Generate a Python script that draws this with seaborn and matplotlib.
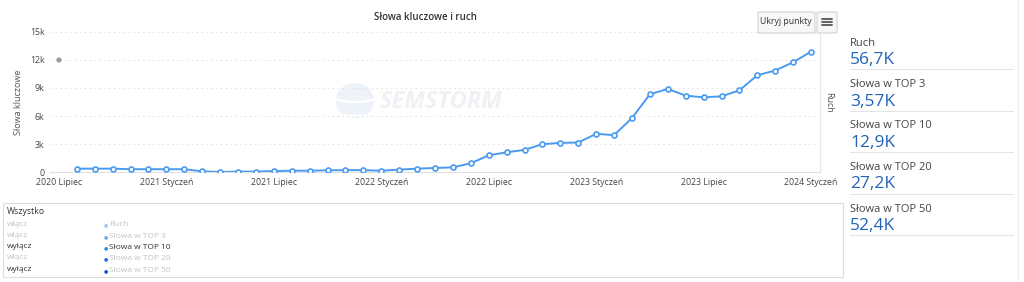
import numpy as np
import pandas as pd
import matplotlib
matplotlib.use("Agg")
import matplotlib.pyplot as plt
import seaborn as sns
from matplotlib.patches import Rectangle, FancyBboxPatch, Ellipse, Arc

# ---- data ----
tick_labels = ["2020 Lipiec", "2021 Styczeń", "2021 Lipiec", "2022 Styczeń",
               "2022 Lipiec", "2023 Styczeń", "2023 Lipiec", "2024 Styczeń"]
# months since July 2020 (Aug 2020 .. Jan 2024)
months = list(range(1, 43))
top10 = [360, 360, 360, 300, 300, 300, 300, 70, 0, 40, 40, 100, 140, 140, 180, 200, 200,
         140, 250, 360, 430, 500, 930, 1790, 2110, 2370, 2980, 3120, 3160, 4090, 3950,
         5780, 8330, 8900, 8180, 8000, 8110, 8750, 10370, 10870, 11760, 12900]
grey_month = [0]
grey_value = [12000]

panel_labels = ["Ruch", "Słowa w TOP 3", "Słowa w TOP 10", "Słowa w TOP 20", "Słowa w TOP 50"]
panel_values = ["56,7K", "3,57K", "12,9K", "27,2K", "52,4K"]
legend_toggle = ["włącz", "włącz", "wyłącz", "włącz", "wyłącz"]
legend_active = [False, False, True, False, False]
legend_colors = ["#9cc8f2", "#6eaaee", "#3b8ce4", "#1f6fd8", "#0f55c4"]

sns.set_theme(style="white")
plt.rcParams['font.family'] = ['Open Sans', 'DejaVu Sans']

W, H = 1024, 282
fig = plt.figure(figsize=(W / 100, H / 100), dpi=100)
fig.patch.set_facecolor("white")

def fx(px):
    return px / W

def fy(py):
    return 1 - py / H

ax = fig.add_axes([fx(50), fy(172), fx(820) - fx(50), fy(32) - fy(172)])
df = pd.DataFrame({"m": months, "v": top10})
sns.lineplot(data=df, x="m", y="v", ax=ax, color="#4a9bf0", lw=1.4,
             marker="o", markersize=3.6, markerfacecolor="white",
             markeredgecolor="#4a9bf0", markeredgewidth=1.2, zorder=3)
gdf = pd.DataFrame({"m": grey_month, "v": grey_value})
sns.scatterplot(data=gdf, x="m", y="v", ax=ax, color="#999999", s=14, edgecolor="none", zorder=3)

ax.set_xlim(-0.5, 42.5)
ax.set_ylim(0, 15000)
ax.set_xticks(range(0, 43, 6))
ax.set_xticklabels(tick_labels, fontsize=6.3, color="#444444")
ax.set_yticks(range(0, 15001, 3000))
ax.set_yticklabels(["0", "3k", "6k", "9k", "12k", "15k"], fontsize=6.3, color="#444444")
ax.tick_params(axis="both", length=0, pad=4)
ax.set_xlabel("")
ax.set_ylabel("Słowa kluczowe", fontsize=6.5, color="#555555", labelpad=5)
ax.grid(axis="y", color="#e6e6e6", ls=(0, (2, 3)), lw=0.7)
for s in ["top", "left"]:
    ax.spines[s].set_visible(False)
ax.spines["bottom"].set_color("#e0e0e0")
ax.spines["right"].set_color("#e6e6e6")
ax.spines["bottom"].set_linewidth(0.8)
ax.spines["right"].set_linewidth(0.8)
ax.set_axisbelow(True)

# watermark
ax.text(0.4286, 0.5, "SEMSTORM", transform=ax.transAxes, fontsize=17, fontweight="bold",
        style="italic", color="#f0f1f4", ha="left", va="center", zorder=0)
ax.add_patch(Ellipse((0.396, 0.51), 0.05, 0.25, transform=ax.transAxes,
                     facecolor="#eef3f9", edgecolor="none", zorder=0))
for yy in (0.45, 0.55):
    ax.add_patch(Arc((0.396, yy), 0.06, 0.1, transform=ax.transAxes, theta1=180, theta2=360,
                     color="white", lw=1.5, zorder=0.5))

# right axis label
fig.text(fx(829), fy(102), "Ruch", rotation=-90, fontsize=6.5, color="#555555",
         ha="center", va="center")

# title
fig.text(fx(425), fy(18), "Słowa kluczowe i ruch", fontsize=7, color="#333333",
         ha="center", va="center", fontweight="semibold")

# buttons
fig.patches.append(FancyBboxPatch((fx(758), fy(33)), fx(57), fy(12) - fy(33),
                                  boxstyle="round,pad=0,rounding_size=0.002",
                                  transform=fig.transFigure, facecolor="#f7f7f7",
                                  edgecolor="#cccccc", lw=0.7))
fig.text(fx(786), fy(22), "Ukryj punkty", fontsize=6.3, color="#333333", ha="center", va="center")
fig.patches.append(FancyBboxPatch((fx(817), fy(33)), fx(20), fy(12) - fy(33),
                                  boxstyle="round,pad=0,rounding_size=0.002",
                                  transform=fig.transFigure, facecolor="#f7f7f7",
                                  edgecolor="#cccccc", lw=0.7))
for dy in (-3, 0, 3):
    fig.lines.append(matplotlib.lines.Line2D([fx(822), fx(832)], [fy(22 + dy), fy(22 + dy)],
                                             transform=fig.transFigure, color="#555555", lw=1.3))

# right panel
fig.lines.append(matplotlib.lines.Line2D([fx(1018), fx(1018)], [fy(0), fy(282)],
                                         transform=fig.transFigure, color="#eeeeee", lw=0.8))
for i, (lab, val) in enumerate(zip(panel_labels, panel_values)):
    y0 = 43 + i * 41.5
    fig.text(fx(850), fy(y0), lab, fontsize=8, color="#444444", ha="left", va="center")
    fig.text(fx(850), fy(y0 + 17), val, fontsize=12.5, color="#2163b8", ha="left", va="center")
    fig.lines.append(matplotlib.lines.Line2D([fx(850), fx(1013)], [fy(y0 + 26), fy(y0 + 26)],
                                             transform=fig.transFigure, color="#e4e4e4", lw=0.8))

# bottom legend box
fig.patches.append(Rectangle((fx(3), fy(277)), fx(840), fy(203) - fy(277),
                             transform=fig.transFigure, facecolor="white",
                             edgecolor="#dddddd", lw=0.8))
fig.text(fx(7), fy(212), "Wszystko", fontsize=6.3, color="#333333", ha="left", va="center")
for i in range(5):
    y0 = 224 + i * 11.3
    tc = "#333333" if legend_toggle[i] == "wyłącz" else "#c4c4c4"
    c = "#333333" if legend_active[i] else "#c4c4c4"
    fig.text(fx(7), fy(y0), legend_toggle[i], fontsize=6, color=tc, ha="left", va="center")
    fig.text(fx(104), fy(y0 + 1), "●", fontsize=3.5, color=legend_colors[i], ha="left", va="center")
    fig.text(fx(109), fy(y0 + 1), panel_labels[i], fontsize=6, color=c, ha="left", va="center")

fig.savefig("out.png", dpi=100, facecolor="white")
